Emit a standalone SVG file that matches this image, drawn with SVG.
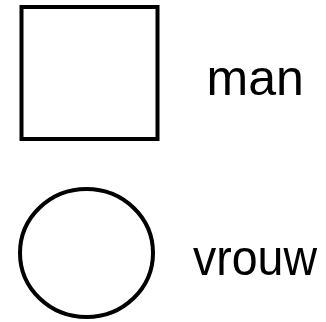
<svg xmlns="http://www.w3.org/2000/svg" width="326" height="322" viewBox="0 0 326 322">
<style>
.shape{fill:#fff;stroke:#000;stroke-width:4}
.lbl{font-family:"Liberation Sans",Arial,sans-serif;font-size:50px;fill:#000}
</style>
<rect width="326" height="322" fill="#fff"/>
<g id="man">
<rect class="shape" x="21.5" y="7" width="136" height="132"/>
<text class="lbl" x="206.5" y="95">man</text>
</g>
<g id="vrouw">
<ellipse class="shape" cx="86.5" cy="253" rx="66.5" ry="64"/>
<text class="lbl" x="193" y="275" textLength="124" lengthAdjust="spacingAndGlyphs">vrouw</text>
</g>
<g id="connectors"/>
</svg>
